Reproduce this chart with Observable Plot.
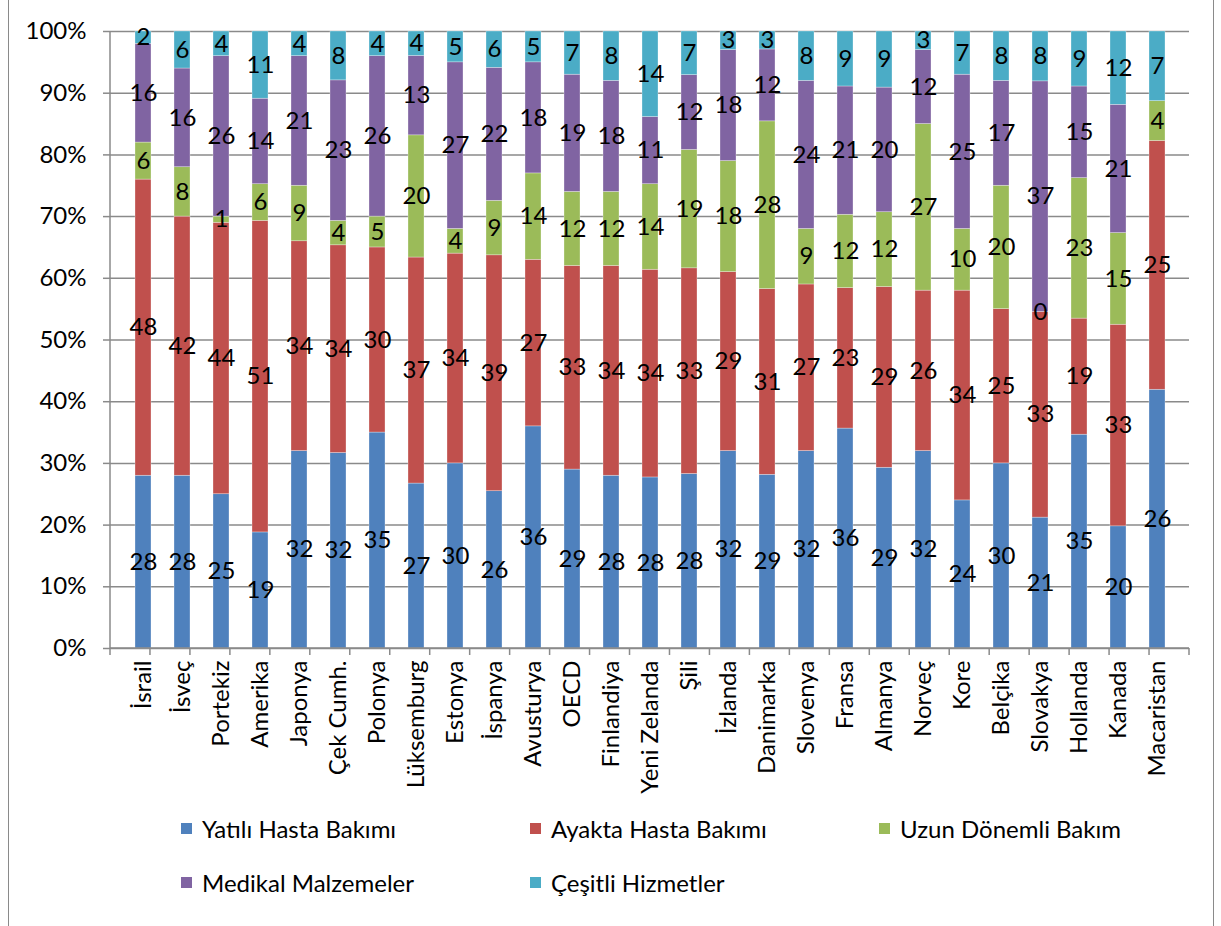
<!DOCTYPE html>
<html>
<head>
<meta charset="utf-8">
<script src="https://cdn.jsdelivr.net/npm/d3@7"></script>
<script src="https://cdn.jsdelivr.net/npm/@observablehq/plot@0.6"></script>
<style>
  html, body { margin: 0; padding: 0; background: #fff; }
  body { font-family: Lato, "Open Sans", sans-serif; }
  #frame {
    position: absolute; left: 8px; top: -3px; width: 1204px; height: 940px;
    border: 1.5px solid #8a8a8a; pointer-events: none;
  }
  #chart { position: absolute; left: 0; top: 0; }
  #legend { position: absolute; left: 181px; top: 801px; font-size: 24px; color: #000; }
  .row { display: flex; height: 54px; align-items: center; }
  .item { width: 349px; display: flex; align-items: center; }
  .swatch { width: 11px; height: 11px; margin-right: 10px; flex: none; }
</style>
</head>
<body>
<div id="chart"></div>
<div id="legend"></div>
<div id="frame"></div>
<script>
// Sağlık harcamalarının hizmet türüne göre dağılımı (ülke bazında)
const countries = ["İsrail", "İsveç", "Portekiz", "Amerika", "Japonya", "Çek Cumh.", "Polonya", "Lüksemburg",
  "Estonya", "İspanya", "Avusturya", "OECD", "Finlandiya", "Yeni Zelanda", "Şili", "İzlanda", "Danimarka",
  "Slovenya", "Fransa", "Almanya", "Norveç", "Kore", "Belçika", "Slovakya", "Hollanda", "Kanada", "Macaristan"];

const yatili  = [28, 28, 25, 19, 32, 32, 35, 27, 30, 26, 36, 29, 28, 28, 28, 32, 29, 32, 36, 29, 32, 24, 30, 21, 35, 20, 26];
const ayakta  = [48, 42, 44, 51, 34, 34, 30, 37, 34, 39, 27, 33, 34, 34, 33, 29, 31, 27, 23, 29, 26, 34, 25, 33, 19, 33, 25];
const uzun    = [6, 8, 1, 6, 9, 4, 5, 20, 4, 9, 14, 12, 12, 14, 19, 18, 28, 9, 12, 12, 27, 10, 20, 0, 23, 15, 4];
const medikal = [16, 16, 26, 14, 21, 23, 26, 13, 27, 22, 18, 19, 18, 11, 12, 18, 12, 24, 21, 20, 12, 25, 17, 37, 15, 21, null];
const cesitli = [2, 6, 4, 11, 4, 8, 4, 4, 5, 6, 5, 7, 8, 14, 7, 3, 3, 8, 9, 9, 3, 7, 8, 8, 9, 12, 7];

const seriesNames = ["Yatılı Hasta Bakımı", "Ayakta Hasta Bakımı", "Uzun Dönemli Bakım", "Medikal Malzemeler", "Çeşitli Hizmetler"];
const seriesValues = [yatili, ayakta, uzun, medikal, cesitli];
const seriesColors = ["#4F81BD", "#C0504D", "#9BBB59", "#8064A2", "#4BACC6"];

const yTicks = [0, 0.1, 0.2, 0.3, 0.4, 0.5, 0.6, 0.7, 0.8, 0.9, 1];
const yTickLabels = ["0%", "10%", "20%", "30%", "40%", "50%", "60%", "70%", "80%", "90%", "100%"];

// long-format table: one row per country × series (missing values skipped)
const table = [];
countries.forEach((country, i) => {
  seriesNames.forEach((series, s) => {
    const value = seriesValues[s][i];
    if (value != null) table.push({country, series, value});
  });
});

const gray = "#8a8a8a";
const fontSize = 24;
const stackOpts = {x: "country", y: "value", z: "series", offset: "normalize", order: seriesNames};

// axis lines plus category-separator ticks under the x axis
const axisLines = (index, scales, values, dims) => {
  const {width, height, marginLeft, marginRight, marginTop, marginBottom} = dims;
  const step = (width - marginLeft - marginRight) / countries.length;
  const y0 = height - marginBottom;
  const g = d3.create("svg:g").attr("stroke", gray).attr("stroke-width", 1.5);
  g.append("line").attr("x1", marginLeft).attr("x2", marginLeft).attr("y1", marginTop).attr("y2", y0);
  g.append("line").attr("x1", marginLeft).attr("x2", width - marginRight).attr("y1", y0).attr("y2", y0);
  for (let k = 0; k <= countries.length; k++) {
    const x = marginLeft + k * step;
    g.append("line").attr("x1", x).attr("x2", x).attr("y1", y0).attr("y2", y0 + 7);
  }
  return g.node();
};

const chart = Plot.plot({
  width: 1221,
  height: 812,
  marginLeft: 110,
  marginRight: 32,
  marginTop: 31,
  marginBottom: 164,
  style: {fontFamily: "Lato, 'Open Sans', sans-serif", fontSize: fontSize + "px", color: "#000", background: "transparent"},
  x: {domain: countries, paddingInner: 0.6, paddingOuter: 0.3, label: null},
  y: {domain: [0, 1], label: null},
  color: {domain: seriesNames, range: seriesColors},
  marks: [
    Plot.gridY({ticks: yTicks, stroke: gray, strokeOpacity: 1, strokeWidth: 1.5}),
    Plot.barY(table, Plot.stackY({...stackOpts, fill: "series", stroke: "white", strokeWidth: 0.6, strokeOpacity: 0.5})),
    axisLines,
    Plot.axisY({ticks: yTicks, tickFormat: (d, i) => yTickLabels[i], tickSize: 7, tickPadding: 17,
      stroke: gray, strokeWidth: 1.5, fontSize, label: null}),
    Plot.axisX({tickRotate: -90, tickSize: 0, tickPadding: 12, fontSize, label: null}),
    Plot.text(table, Plot.stackY({...stackOpts, text: d => String(d.value), fill: "#000", fontSize}))
  ]
});
document.getElementById("chart").appendChild(chart);

// legend below the chart: three items per row
const legend = d3.select("#legend");
const rows = [seriesNames.slice(0, 3), seriesNames.slice(3)];
rows.forEach(names => {
  const row = legend.append("div").attr("class", "row");
  names.forEach(name => {
    const item = row.append("div").attr("class", "item");
    item.append("div").attr("class", "swatch").style("background", seriesColors[seriesNames.indexOf(name)]);
    item.append("span").text(name);
  });
});
</script>
</body>
</html>
